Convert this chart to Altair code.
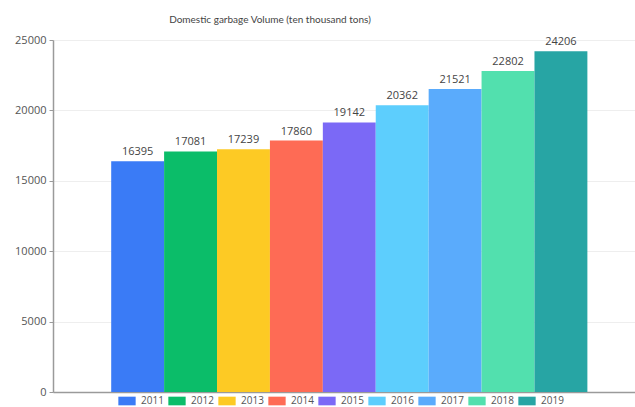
import altair as alt
import pandas as pd

years = ["2011", "2012", "2013", "2014", "2015", "2016", "2017", "2018", "2019"]
values = [16395, 17081, 17239, 17860, 19142, 20362, 21521, 22802, 24206]
colors = ["#3a7bf6", "#0bbd69", "#fdca24", "#fe6b55", "#7b69f6", "#5dcefd", "#5aabfc", "#52e0ae", "#27a5a4"]

df = pd.DataFrame({"year": years, "value": values})

FONT = "Open Sans"

x = alt.X("year:N", sort=years,
          scale=alt.Scale(paddingInner=0, paddingOuter=1, align=0.55),
          axis=alt.Axis(title=None, labels=False, ticks=False, domain=True,
                        domainColor="#9a9a9a", domainWidth=1.5, grid=False))
y = alt.Y("value:Q", scale=alt.Scale(domain=[0, 25000], nice=False),
          axis=alt.Axis(title=None, values=[0, 5000, 10000, 15000, 20000, 25000],
                        format="d", labelFont=FONT, labelFontSize=11, labelColor="#555555",
                        labelPadding=3, tickSize=4, tickColor="#9a9a9a",
                        domainColor="#9a9a9a", domainWidth=1.5,
                        gridColor="#eeeeee", gridWidth=1))

bars = alt.Chart(df).mark_bar().encode(
    x=x, y=y,
    color=alt.Color("year:N", sort=years,
                    scale=alt.Scale(domain=years, range=colors),
                    legend=alt.Legend(title=None, orient="none", legendX=65, legendY=352,
                                      direction="horizontal",
                                      symbolType="M-1,-0.5H1V0.5H-1Z", symbolSize=300,
                                      symbolStrokeWidth=0, symbolOpacity=1,
                                      labelFont=FONT, labelFontSize=10, labelColor="#555555",
                                      labelOffset=5, columnPadding=4, padding=0)),
)

labels = alt.Chart(df).mark_text(dy=-9, font=FONT, fontSize=11, color="#444444").encode(
    x=alt.X("year:N", sort=years), y="value:Q", text="value:Q")

chart = (bars + labels).properties(
    width=582, height=352,
    title=alt.TitleParams("Domestic garbage Volume (ten thousand tons)", font="Lato",
                          fontSize=10, fontWeight="normal", color="#444444",
                          anchor="middle", dx=-74, offset=9),
    autosize=alt.AutoSizeParams(type="none"),
    padding={"left": 53, "top": 40, "right": 0, "bottom": 15},
).configure_view(stroke=None).configure(background="white")

chart.save("out.html", embed_options={"renderer": "svg", "actions": False})
